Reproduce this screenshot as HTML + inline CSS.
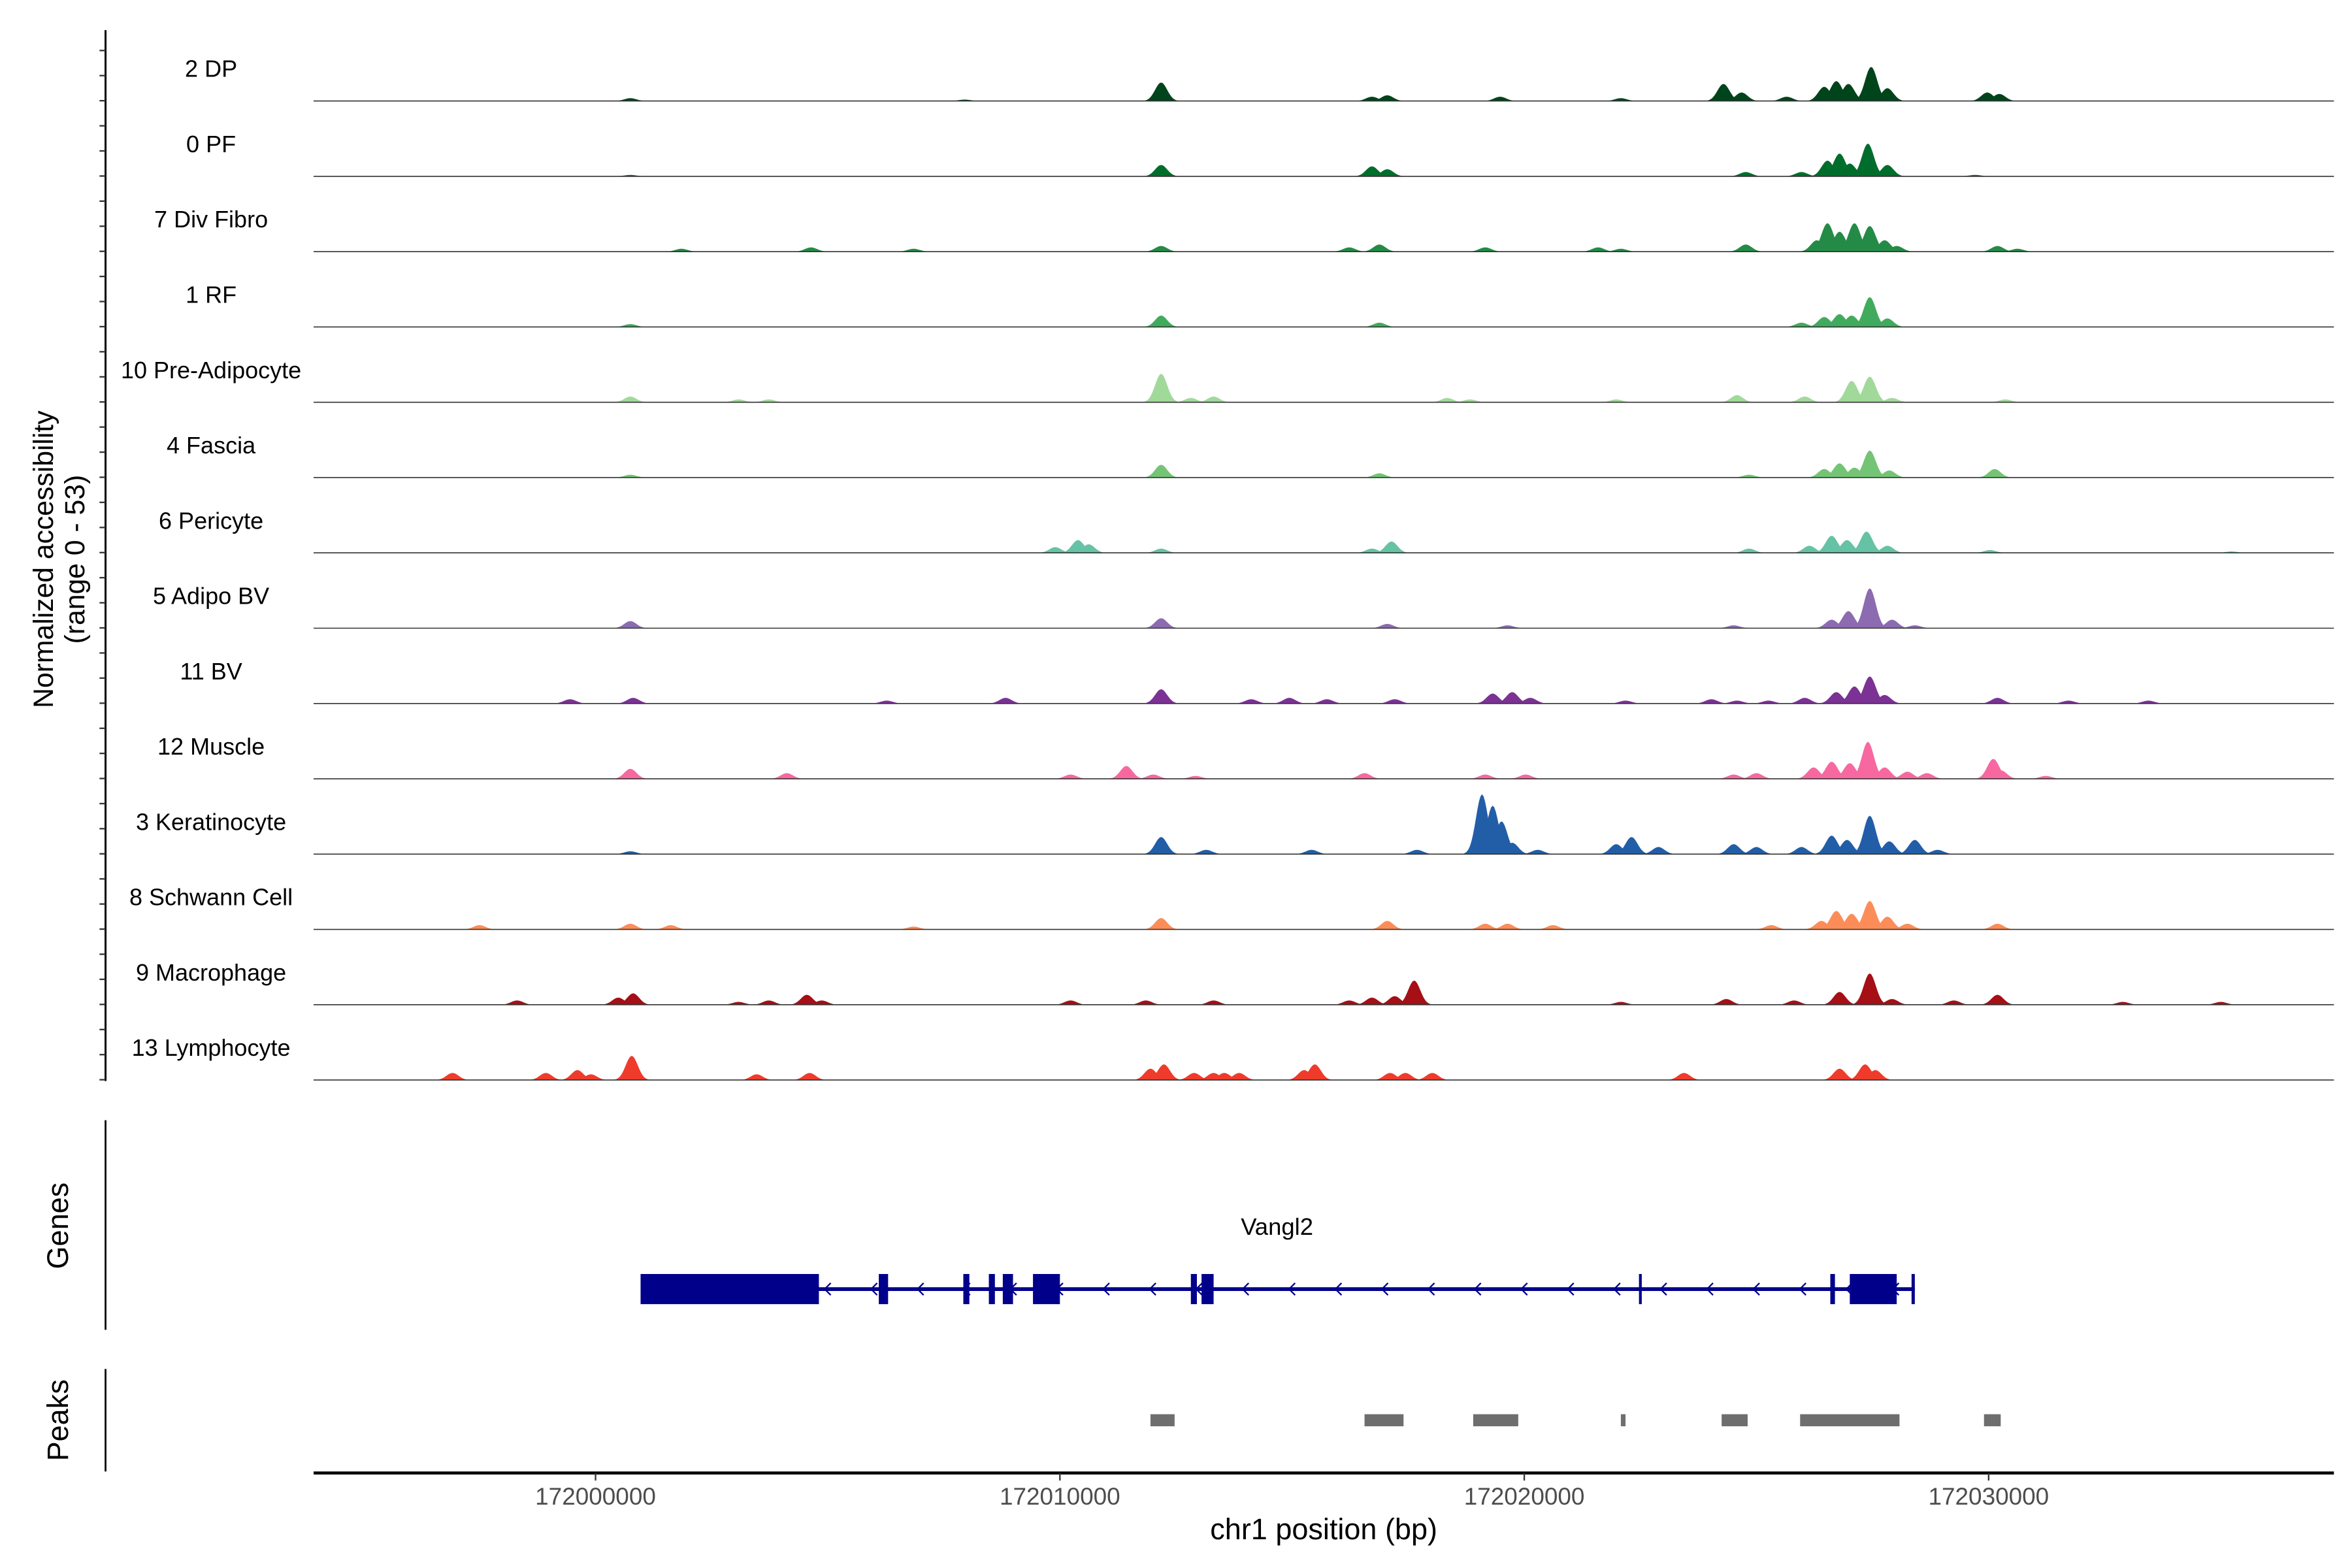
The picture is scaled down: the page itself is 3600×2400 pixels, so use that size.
<!DOCTYPE html>
<html><head><meta charset="utf-8"><style>
html,body{margin:0;padding:0;background:#fff;}
svg{display:block;font-family:"Liberation Sans",Arial,sans-serif;}
</style></head><body>
<svg id="chart" xmlns="http://www.w3.org/2000/svg" width="3600" height="2400" viewBox="0 0 1560 1040">
<rect width="1560" height="1040" fill="#fff"/>
<g id="tracks"></g>
<g id="yaxis"></g>
<text transform="translate(35,371) rotate(-90)" text-anchor="middle" font-size="18.5">Normalized accessibility</text>
<text transform="translate(56,371) rotate(-90)" text-anchor="middle" font-size="18.5">(range 0 - 53)</text>
<line x1="70" y1="743" x2="70" y2="882" stroke="#000" stroke-width="1.2"/>
<text transform="translate(45,813) rotate(-90)" text-anchor="middle" font-size="19.5">Genes</text>
<g id="gene"></g>
<line x1="70" y1="908" x2="70" y2="976" stroke="#000" stroke-width="1.2"/>
<text transform="translate(45,942) rotate(-90)" text-anchor="middle" font-size="19.5">Peaks</text>
<g id="peaks"></g>
<g id="xaxis"></g>
<text x="878" y="1021" text-anchor="middle" font-size="19.5">chr1 position (bp)</text>
</svg>
<script>
// positions in kb relative to 172,000,000; values are normalized accessibility
const trackNames = ["2 DP","0 PF","7 Div Fibro","1 RF","10 Pre-Adipocyte","4 Fascia","6 Pericyte","5 Adipo BV","11 BV","12 Muscle","3 Keratinocyte","8 Schwann Cell","9 Macrophage","13 Lymphocyte"];
const trackColors = ["#00441b","#006d2c","#238b45","#41ab5d","#a1d99b","#74c476","#66c2a4","#8c6bb1","#7b3294","#f768a1","#225ea8","#fc8d59","#a50f15","#ef3b2c"];
const peaksDP = [[0.75,2],[7.95,1],[12.18,13],[16.72,3],[17.05,4],[19.48,3],[22.08,2],[24.29,12],[24.68,6],[25.65,3],[26.46,10],[26.72,14],[26.98,12],[27.47,24],[27.82,9],[29.97,6],[30.23,5]];
const peaksPF = [[0.75,1],[12.18,8],[16.72,7],[17.05,5],[24.77,3],[25.97,3],[26.53,11],[26.79,16],[27.01,9],[27.4,23],[27.82,8],[29.71,1]];
const peaksDiv = [[1.85,2],[4.64,3],[6.85,2],[12.18,4],[16.23,3],[16.88,5],[19.16,3],[21.59,3],[22.08,2],[24.77,5],[26.3,8],[26.53,20],[26.79,14],[27.11,20],[27.44,18],[27.76,8],[28.02,4],[30.19,4],[30.62,2]];
const peaksRF = [[0.75,2],[12.18,8],[16.88,3],[25.97,3],[26.46,7],[26.79,9],[27.05,8],[27.44,21],[27.82,6]];
const peaksPre = [[0.75,4],[3.08,2],[3.73,2],[12.18,20],[12.82,3],[13.31,4],[18.34,3],[18.83,2],[21.98,2],[24.58,5],[26.04,4],[27.05,15],[27.44,18],[27.92,3],[30.36,2]];
const peaksFascia = [[0.75,2],[12.18,9],[16.88,3],[24.84,2],[26.46,6],[26.79,10],[27.11,7],[27.44,19],[27.86,5],[30.13,6]];
const peaksPeri = [[9.9,4],[10.39,9],[10.62,6],[12.18,3],[16.72,3],[17.14,8],[24.84,3],[26.14,5],[26.62,12],[26.95,9],[27.37,15],[27.82,5],[30.03,2],[35.23,1]];
const peaksAdipoBV = [[0.75,5],[12.18,7],[17.05,3],[19.64,2],[24.51,2],[26.62,6],[26.98,12],[27.44,28],[27.92,6],[28.41,2]];
const peaksBV = [[-0.55,3],[0.81,4],[6.27,2],[8.83,4],[12.18,10],[14.12,3],[14.94,4],[15.75,3],[17.21,3],[19.32,7],[19.74,8],[20.13,4],[22.18,2],[24.03,3],[24.58,2],[25.26,2],[26.04,4],[26.72,8],[27.11,12],[27.44,19],[27.76,6],[30.19,4],[31.72,2],[33.44,2]];
const peaksMuscle = [[0.75,7],[4.12,4],[10.23,3],[11.43,9],[12.01,3],[12.92,2],[16.56,4],[19.16,3],[20.03,3],[24.51,3],[25.0,4],[26.23,8],[26.62,12],[27.01,11],[27.4,26],[27.76,8],[28.25,5],[28.67,4],[30.1,14],[30.26,6],[31.23,2]];
const peaksKera = [[0.75,2],[12.18,12],[13.15,3],[15.42,3],[17.69,3],[19.09,42],[19.32,34],[19.51,23],[19.74,8],[20.29,3],[21.98,7],[22.31,12],[22.89,5],[24.51,7],[25.0,5],[25.97,5],[26.62,13],[26.95,10],[27.44,27],[27.86,9],[28.41,10],[28.9,3]];
const peaksSchwann = [[-2.5,3],[0.75,4],[1.62,3],[6.85,2],[12.18,8],[17.05,6],[19.16,4],[19.64,4],[20.62,3],[25.32,3],[26.4,6],[26.72,13],[27.05,11],[27.44,20],[27.82,9],[28.25,4],[30.19,4]];
const peaksMacro = [[-1.69,3],[0.49,5],[0.81,8],[3.08,2],[3.73,3],[4.55,7],[4.87,3],[10.23,3],[11.85,3],[13.31,3],[16.23,3],[16.72,5],[17.21,6],[17.63,17],[22.08,2],[24.35,4],[25.81,3],[26.79,9],[27.44,22],[27.92,4],[29.25,3],[30.19,7],[32.89,2],[35.0,2]];
const peaksLymph = [[-3.08,5],[-1.07,5],[-0.39,7],[-0.1,4],[0.78,17],[3.47,4],[4.61,5],[11.95,8],[12.24,11],[12.89,5],[13.31,5],[13.54,5],[13.86,5],[15.26,7],[15.49,11],[17.11,5],[17.44,5],[18.02,5],[23.44,5],[26.79,8],[27.34,11],[27.56,7]];
const trackPeaks = [peaksDP,peaksPF,peaksDiv,peaksRF,peaksPre,peaksFascia,peaksPeri,peaksAdipoBV,peaksBV,peaksMuscle,peaksKera,peaksSchwann,peaksMacro,peaksLymph];
const xTicks = [0,10,20,30];
const xTickLabels = ["172000000","172010000","172020000","172030000"];
const geneStartEnd = [0.97,28.41];
const geneExons = [[0.97,4.81],[6.1,6.3],[7.92,8.05],[8.47,8.6],[8.77,8.99],[9.42,10.0],[12.82,12.95],[13.05,13.31],[22.47,22.53],[26.59,26.69],[27.01,28.02],[28.34,28.41]];
const peakRegions = [[11.95,12.47],[16.56,17.4],[18.9,19.87],[22.08,22.18],[24.25,24.81],[25.94,28.08],[29.9,30.26]];
const yMax = 53;

const NS="http://www.w3.org/2000/svg";
const X0=208, X1=1548;
function xScale(kb){return 395 + kb*30.8;}
function baseY(i){return 67 + i*49.95;}
function yScale(i,v){return baseY(i) - v/yMax*50;}
function mk(tag,attrs,parent){const e=document.createElementNS(NS,tag);for(const k in attrs)e.setAttribute(k,attrs[k]);parent.appendChild(e);return e;}

const tracks=document.getElementById('tracks');
trackNames.forEach((name,i)=>{
  const g=mk('g',{},tracks);
  
  
  const lbl=mk('text',{x:140,y:baseY(i)-16,'text-anchor':'middle','font-size':'15.6'},g);
  lbl.textContent=name;
  
  
  trackPeaks[i].forEach(p=>{
    const c=p[0], v=p[1], s=0.13;
    let d='M'+xScale(c-3*s)+','+baseY(i);
    for(let k=-3;k<=3;k+=0.25){
      const vv=v*Math.exp(-k*k/2);
      d+=' L'+xScale(c+k*s).toFixed(2)+','+yScale(i,vv).toFixed(2);
    }
    d+=' L'+xScale(c+3*s)+','+baseY(i)+' Z';
    const path=mk('path',{d:d,fill:trackColors[i]},g);
    
    
  });
  const bl=mk('line',{x1:X0,x2:X1,y1:baseY(i),y2:baseY(i),stroke:'#333','stroke-width':'0.7'},g);
  
  
});

const ya=document.getElementById('yaxis');
mk('line',{x1:70,x2:70,y1:20,y2:717,stroke:'#000','stroke-width':'1.3'},ya);
for(let t=0;t<42;t++){
  const y=33.5+t*16.65;
  if(y>717)break;
  mk('line',{x1:66,x2:70,y1:y,y2:y,stroke:'#333','stroke-width':'1'},ya);
}

const gg=document.getElementById('gene');
const gy=855;
mk('line',{x1:xScale(geneStartEnd[0]),x2:xScale(geneStartEnd[1]),y1:gy,y2:gy,stroke:'#00008b','stroke-width':'2.5'},gg);
for(let a=5.0;a<28.2;a+=1.0){
  const ax=xScale(a);
  const ar=mk('path',{d:'M'+(ax+2)+','+(gy-4)+' L'+(ax-2)+','+gy+' L'+(ax+2)+','+(gy+4),fill:'none',stroke:'#00008b','stroke-width':'1'},gg);
  
  
}
geneExons.forEach(e=>{
  const r=mk('rect',{x:xScale(e[0]),y:845,width:Math.max(1.5,xScale(e[1])-xScale(e[0])),height:20,fill:'#00008b'},gg);
  
  
});
const gl=mk('text',{x:847,y:819,'text-anchor':'middle','font-size':'15.8'},gg);
gl.textContent='Vangl2';



const pg=document.getElementById('peaks');
peakRegions.forEach(p=>{
  const r=mk('rect',{x:xScale(p[0]),y:938,width:Math.max(1.5,xScale(p[1])-xScale(p[0])),height:8,fill:'#6e6e6e'},pg);
  
  
});

const xa=document.getElementById('xaxis');
mk('line',{x1:X0,x2:X1,y1:977,y2:977,stroke:'#000','stroke-width':'2'},xa);
xTicks.forEach((t,i)=>{
  const x=xScale(t);
  mk('line',{x1:x,x2:x,y1:977,y2:982,stroke:'#333','stroke-width':'1'},xa);
  const tl=mk('text',{x:x,y:998,'text-anchor':'middle','font-size':'16','fill':'#4d4d4d'},xa);
  tl.textContent=xTickLabels[i];
  
  
});
</script>
</body></html>
